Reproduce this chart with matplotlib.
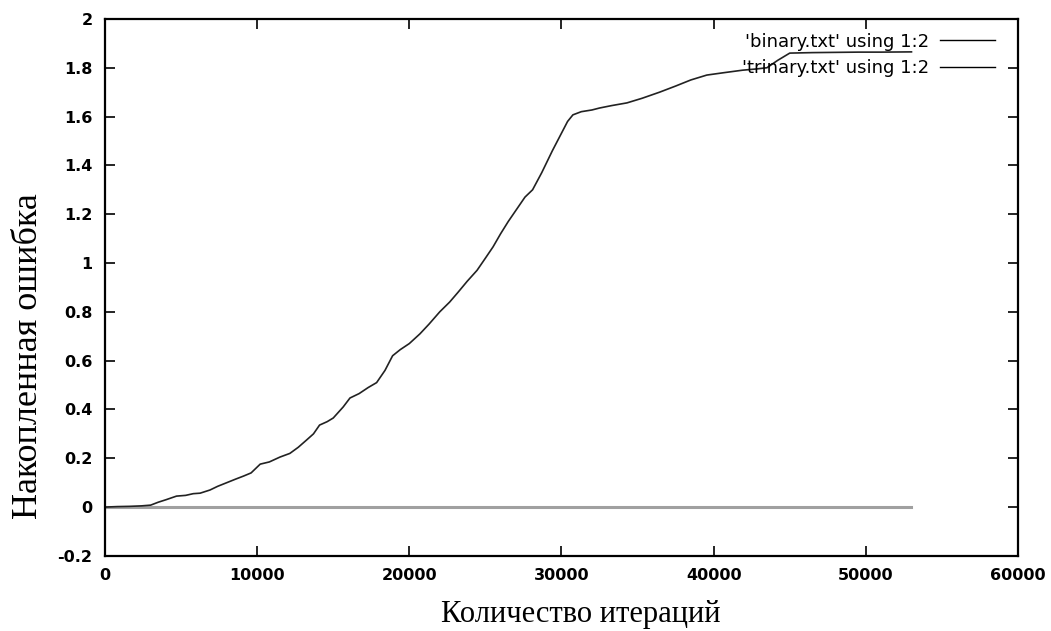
import matplotlib.pyplot as plt
from matplotlib.lines import Line2D

# binary.txt: accumulated error vs iteration
binary_x = [0, 800, 1600, 2400, 3000, 3500, 4000, 4700, 5300, 5800, 6250, 6900,
            7400, 8000, 8600, 9100, 9600, 10200, 10800, 11500, 12150, 12700,
            13250, 13700, 14100, 14600, 15000, 15650, 16100, 16700, 17300,
            17850, 18400, 18900, 19400, 20000, 20700, 21300, 22000, 22650,
            23200, 23800, 24450, 25000, 25500, 26000, 26500, 27050, 27600,
            28100, 28700, 29400, 29900, 30400, 30750, 31300, 32000, 32500,
            33300, 34300, 35300, 36450, 37500, 38500, 39550, 40700, 41900,
            42800, 43500, 44200, 45000, 46500, 48000, 49500, 51000, 53000]
binary_y = [0.0, 0.002, 0.003, 0.005, 0.008, 0.02, 0.03, 0.045, 0.048, 0.055,
            0.057, 0.07, 0.085, 0.10, 0.115, 0.127, 0.14, 0.176, 0.185, 0.205,
            0.22, 0.245, 0.275, 0.30, 0.336, 0.35, 0.365, 0.41, 0.447, 0.465,
            0.49, 0.51, 0.56, 0.62, 0.645, 0.67, 0.71, 0.75, 0.80, 0.84, 0.88,
            0.925, 0.97, 1.02, 1.066, 1.12, 1.17, 1.22, 1.27, 1.30, 1.37, 1.46,
            1.52, 1.58, 1.607, 1.62, 1.627, 1.635, 1.645, 1.656, 1.675, 1.70,
            1.725, 1.75, 1.77, 1.78, 1.79, 1.795, 1.80, 1.83, 1.86, 1.862,
            1.863, 1.864, 1.864, 1.865]

# trinary.txt: stays at zero
trinary_x = [0, 53000]
trinary_y = [0.0, 0.0]

x_ticks = [0, 10000, 20000, 30000, 40000, 50000, 60000]
y_ticks = [-0.2, 0, 0.2, 0.4, 0.6, 0.8, 1, 1.2, 1.4, 1.6, 1.8, 2]
y_tick_labels = ['-0.2', '0', '0.2', '0.4', '0.6', '0.8', '1', '1.2', '1.4',
                 '1.6', '1.8', '2']

fig = plt.figure(figsize=(10.51, 6.31), dpi=100)
ax = fig.add_axes([0.0999, 0.119, 0.8687, 0.851])

ax.plot(trinary_x, trinary_y, color='#a0a0a0', linewidth=2.2)
ax.plot(binary_x, binary_y, color='#222222', linewidth=1.2)

ax.set_xlim(0, 60000)
ax.set_ylim(-0.2, 2)
ax.set_xticks(x_ticks, [str(t) for t in x_ticks])
ax.set_yticks(y_ticks, y_tick_labels)
ax.tick_params(direction='in', length=7, width=1.2, top=True, right=True,
               labelsize=11.5, pad=9)
for lab in ax.get_xticklabels() + ax.get_yticklabels():
    lab.set_fontweight('bold')
for s in ax.spines.values():
    s.set_linewidth(1.6)

ax.set_xlabel('Количество итераций', family='Liberation Serif', fontsize=22)
ax.xaxis.set_label_coords(0.521, -0.083)
ax.set_ylabel('Накопленная ошибка', family='Liberation Serif', fontsize=26)
ax.yaxis.set_label_coords(-0.066, 0.372)

handles = [Line2D([], [], color='black', linewidth=1),
           Line2D([], [], color='black', linewidth=1)]
ax.legend(handles, ["'binary.txt' using 1:2", "'trinary.txt' using 1:2"],
          loc='upper right', bbox_to_anchor=(1, 1.018), frameon=False,
          markerfirst=False, fontsize=13, handlelength=3.0, borderaxespad=0.9,
          labelspacing=0.45, handletextpad=0.6)

fig.savefig('out.png', dpi=100)
